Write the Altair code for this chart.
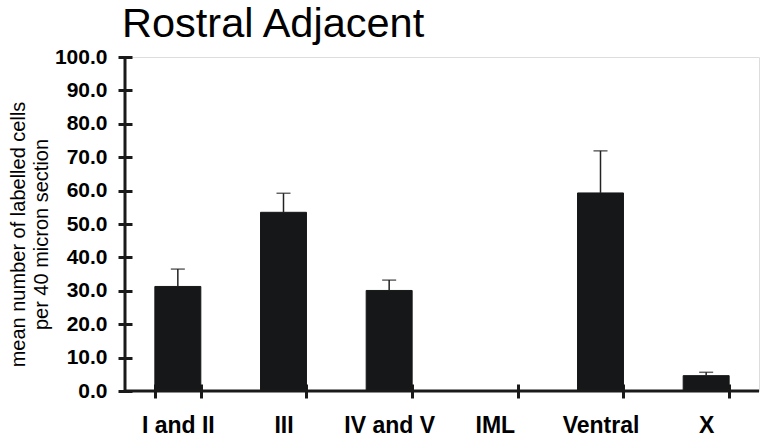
import altair as alt
import pandas as pd

categories = ["I and II", "III", "IV and V", "IML", "Ventral", "X"]
means = [31.3, 53.5, 30.1, 0.0, 59.3, 4.6]
sems = [5.2, 5.7, 3.1, 0.0, 12.6, 1.0]
y_ticks = [0, 10, 20, 30, 40, 50, 60, 70, 80, 90, 100]

W, H = 634, 334
FONT = "Liberation Sans"
INK = "#1a1a1a"

df = pd.DataFrame({"cat": categories, "mean": means, "sem": sems})
df["upper"] = df["mean"] + df["sem"]

xscale = alt.Scale(domain=categories, paddingInner=0.565, paddingOuter=0.2825)
yscale = alt.Scale(domain=[0, 100], nice=False)

x_axis = alt.Axis(
    title=None, tickBand="extent", offset=-7, tickSize=14, tickWidth=3,
    tickColor=INK, domain=False, labelFont=FONT, labelFontSize=23,
    labelFontWeight="bold", labelColor="#000", labelPadding=16,
    labelAngle=0, labelBaseline="top", labelOverlap=False,
)
y_axis = alt.Axis(
    title=["mean number of labelled cells", "per 40 micron section"],
    titleFont=FONT, titleFontSize=20, titleFontWeight="normal",
    titleColor="#000", titleAngle=-90, titleAlign="center",
    titleBaseline="top", titleX=-124, titleY=177, titleLineHeight=23,
    values=y_ticks, format=".1f", offset=-7, tickSize=14, tickWidth=3,
    tickColor=INK, domain=False, labelFont=FONT, labelFontSize=21,
    labelFontWeight="bold", labelColor="#000", labelPadding=11, grid=False,
    labelOverlap=False, tickCount=11,
)

base = alt.Chart(df)
X = alt.X("cat:N", scale=xscale, axis=x_axis, sort=categories)

bars = base.mark_bar(color="#161718", stroke="#161718", strokeWidth=1).encode(
    x=X,
    y=alt.Y("mean:Q", scale=yscale, axis=y_axis),
)

err = base.transform_filter("datum.sem > 0").mark_rule(
    color="#222", strokeWidth=1.5
).encode(
    x=X,
    y=alt.Y("mean:Q", scale=yscale, axis=y_axis),
    y2="upper:Q",
)

caps = base.transform_filter("datum.sem > 0").mark_tick(
    color="#222", thickness=1.5, size=14, orient="horizontal"
).encode(
    x=X,
    y=alt.Y("upper:Q", scale=yscale, axis=y_axis),
)

ydom = alt.Chart(df).mark_rule(color=INK, strokeWidth=3).encode(
    x=alt.value(0), y=alt.datum(0), y2=alt.datum(100)
).transform_filter("datum.cat == 'III'")

xdom = alt.Chart(df).mark_rule(color=INK, strokeWidth=3).encode(
    y=alt.datum(0), x=alt.value(0), x2=alt.value(W)
).transform_filter("datum.cat == 'III'")

chart = alt.layer(bars, err, caps, xdom, ydom).properties(
    width=W, height=H,
    autosize=alt.AutoSizeParams(type="none"),
    padding={"left": 125, "top": 57, "right": 1, "bottom": 45},
    title=alt.TitleParams(
        "Rostral Adjacent", anchor="start", frame="group", font=FONT,
        fontSize=41.5, fontWeight="normal", color="#000", dx=-3,
        baseline="alphabetic", offset=5, dy=37,
    ),
).configure_view(stroke=None).configure(background="white")

chart.save("out.html", embed_options={"renderer": "svg", "actions": False})
